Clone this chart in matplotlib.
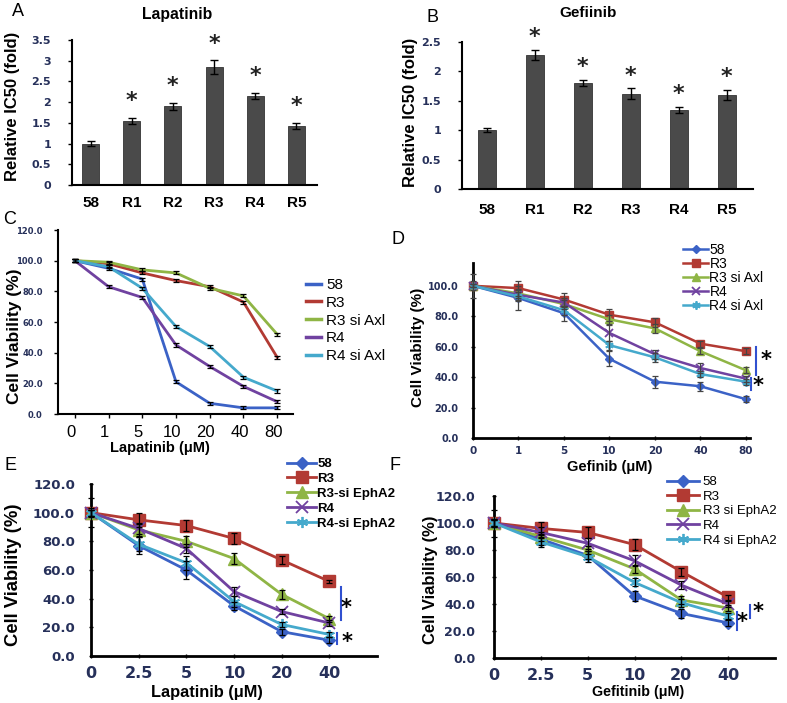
import matplotlib
matplotlib.use('Agg')
import matplotlib.pyplot as plt
import matplotlib.transforms as mtransforms
import numpy as np

plt.rcParams['font.family'] = ['Liberation Sans', 'DejaVu Sans']

# ---------------- data ----------------
bar_labels = ['58', 'R1', 'R2', 'R3', 'R4', 'R5']
lap_ic50 = [1.0, 1.55, 1.9, 2.85, 2.15, 1.43]
lap_err = [0.05, 0.07, 0.08, 0.16, 0.07, 0.07]
gef_ic50 = [1.0, 2.28, 1.8, 1.62, 1.35, 1.6]
gef_err = [0.03, 0.08, 0.05, 0.09, 0.05, 0.08]
bar_sig = [False, True, True, True, True, True]

conc_cd = ['0', '1', '5', '10', '20', '40', '80']
conc_ef = ['0', '2.5', '5', '10', '20', '40']

series_cd = ['58', 'R3', 'R3 si Axl', 'R4', 'R4 si Axl']
c_vals = {
    '58':        [100, 95, 88, 21, 7, 4, 4],
    'R3':        [100, 98, 92, 87, 83, 73, 37],
    'R3 si Axl': [100, 99, 94, 92, 82, 77, 52],
    'R4':        [100, 83, 76, 45, 31, 18, 8],
    'R4 si Axl': [100, 96, 82, 57, 44, 24, 15],
}
c_err = [1, 1, 1, 1, 1, 1, 1]

d_vals = {
    '58':        [100, 92, 82, 52, 37, 34, 25.5],
    'R3':        [100, 98.5, 91, 81, 76, 62, 57],
    'R3 si Axl': [100, 95, 88, 78, 72, 57, 44.5],
    'R4':        [100, 94, 89, 69, 55, 46, 39],
    'R4 si Axl': [100, 93, 84, 61, 53, 42, 37],
}
d_err = {
    '58':        [8, 8, 5, 5, 4, 3, 2],
    'R3':        [3, 5, 4, 4, 3, 2, 2],
    'R3 si Axl': [1, 3, 3, 3, 3, 2, 2],
    'R4':        [1, 3, 3, 5, 3, 3, 2],
    'R4 si Axl': [1, 3, 3, 3, 3, 2, 2],
}

series_e = ['58', 'R3', 'R3-si EphA2', 'R4', 'R4-si EphA2']
e_vals = {
    '58':          [100, 77, 60, 35, 17, 11],
    'R3':          [100, 95, 91, 82, 67, 52],
    'R3-si EphA2': [100, 88, 80, 68, 43, 26],
    'R4':          [100, 89, 75, 45, 31, 23],
    'R4-si EphA2': [100, 78, 65, 38, 22, 15],
}
e_err = {
    '58':          [2, 6, 6, 3, 2, 2],
    'R3':          [2, 5, 4, 4, 3, 1],
    'R3-si EphA2': [2, 4, 4, 4, 3, 2],
    'R4':          [10, 4, 3, 3, 2, 2],
    'R4-si EphA2': [3, 5, 5, 4, 2, 2],
}

series_f = ['58', 'R3', 'R3 si EphA2', 'R4', 'R4 si EphA2']
f_vals = {
    '58':          [100, 88, 76, 46, 33, 26],
    'R3':          [100, 96, 93, 84, 64, 45],
    'R3 si EphA2': [100, 90, 80, 66, 43, 37],
    'R4':          [100, 93, 85, 72, 54, 40],
    'R4 si EphA2': [100, 86, 75, 56, 41, 31],
}
f_err = {
    '58':          [3, 4, 3, 4, 3, 2],
    'R3':          [2, 5, 4, 4, 3, 2],
    'R3 si EphA2': [2, 3, 3, 3, 3, 2],
    'R4':          [10, 4, 4, 4, 3, 2],
    'R4 si EphA2': [3, 4, 4, 3, 3, 2],
}

colors = ['#3b62c6', '#b23a33', '#8fb545', '#7042a0', '#45a9cc']
markers = ['D', 's', '^', 'x', (6, 2, 0)]

# ---------------- figure ----------------
W, H = 787, 703
fig = plt.figure(figsize=(W / 100, H / 100), dpi=100)


def add_ax(x0, y0, x1, y1):
    return fig.add_axes([x0 / W, 1 - y1 / H, (x1 - x0) / W, (y1 - y0) / H])


def ftext(x, y, s, **kw):
    fig.text(x / W, 1 - y / H, s, **kw)


TICKC = '#26305a'


def base_style(ax, lw):
    for s in ['top', 'right']:
        ax.spines[s].set_visible(False)
    for s in ['left', 'bottom']:
        ax.spines[s].set_linewidth(lw)
        ax.spines[s].set_color('black')
    ax.patch.set_alpha(0)


def bar_panel(ax, vals, errs, ymax, step, xlim, width, star_off, ypad):
    x = np.arange(len(vals))
    ax.bar(x, vals, width=width, color='#4a4a4a', edgecolor='#333333', linewidth=0.6,
           yerr=errs, error_kw=dict(ecolor='black', elinewidth=1, capsize=3, capthick=1))
    for xi, v, e, s in zip(x, vals, errs, bar_sig):
        if s:
            ax.text(xi, v + e + star_off, '*', ha='center', va='center', fontsize=16,
                    fontweight='bold', fontfamily='DejaVu Sans', color='#222222')
    base_style(ax, 1.5)
    ax.set_xlim(*xlim)
    ax.set_ylim(0, ymax)
    yt = np.arange(0, ymax + 1e-9, step)
    ax.set_yticks(yt, labels=[('%g' % t) for t in yt], fontfamily='DejaVu Sans',
                  fontweight='bold', fontsize=8, color=TICKC)
    ax.set_xticks(x, labels=bar_labels, fontweight='bold', fontsize=11)
    ax.tick_params(axis='x', length=0, pad=8)
    ax.tick_params(axis='y', length=3, width=1, direction='out', pad=ypad)


# Panel A
axA = add_ax(72, 40, 317, 185)
bar_panel(axA, lap_ic50, lap_err, 3.5, 0.5, (-0.45, 5.5), 0.41, 0.4, 12)
# Panel B
axB = add_ax(462, 42, 753, 189)
bar_panel(axB, gef_ic50, gef_err, 2.5, 0.5, (-0.52, 5.55), 0.38, 0.22, 12)
axB.tick_params(axis='x', pad=10)


def line_panel(ax, series, vals, errs, xlabels, xlim, ylim, yticks, ytsize, ypad, xtsize,
               xtweight, xpad, use_markers, ms, lw, spine_lw, ecolor, tickdir):
    x = np.arange(len(xlabels))
    for i, name in enumerate(series):
        e = errs[name] if isinstance(errs, dict) else errs
        ax.plot(x, vals[name], color=colors[i], lw=lw,
                marker=markers[i] if use_markers else None,
                ms=ms[i] if use_markers else 0, mew=1.3 if i >= 3 else 1,
                label=name, clip_on=False, zorder=3)
        ax.errorbar(x, vals[name], yerr=e, fmt='none', ecolor=ecolor, elinewidth=0.9,
                    capsize=2.2, capthick=0.9, clip_on=False, zorder=4)
    base_style(ax, spine_lw)
    ax.set_xlim(*xlim)
    ax.set_ylim(*ylim)
    ax.set_yticks(yticks, labels=['%.1f' % t for t in yticks], fontfamily='DejaVu Sans',
                  fontweight='bold', fontsize=ytsize, color=TICKC)
    ax.set_xticks(x, labels=xlabels, fontsize=xtsize, fontweight=xtweight,
                  fontfamily='DejaVu Sans' if xtweight == 'bold' else 'Liberation Sans',
                  color=TICKC if xtweight == 'bold' else 'black')
    ax.tick_params(axis='y', length=3, width=1, direction=tickdir, pad=ypad)
    ax.tick_params(axis='x', length=3, width=1, direction=tickdir, pad=xpad)


def legend_at(ax, x, y, fontsize, weight, handlelength, textpad, spacing, lw=None):
    leg = ax.legend(loc='upper left', bbox_to_anchor=(x / W, 1 - y / H),
                    bbox_transform=fig.transFigure, frameon=False, borderpad=0,
                    borderaxespad=0, handlelength=handlelength, handletextpad=textpad,
                    labelspacing=spacing, numpoints=1,
                    prop=dict(size=fontsize, weight=weight, family='Liberation Sans'))
    if lw is not None:
        for ln in leg.get_lines():
            ln.set_linewidth(lw)
    return leg


def bracket(ax, xd, y0, y1, sx, sy):
    ax.plot([xd, xd], [y0, y1], color='#3050d0', lw=1.5, clip_on=False)
    ax.text(sx, sy, '*', ha='center', va='center', fontsize=15, fontweight='bold',
            fontfamily='DejaVu Sans', clip_on=False)


# Panel C
axC = add_ax(58, 230, 293, 414)
line_panel(axC, series_cd, c_vals, c_err, conc_cd, (-0.5, 6.47), (0, 120),
           np.arange(0, 121, 20), 6, 8, 12, 'normal', 5, False, None, 2.0, 1.5,
           'black', 'out')
shift = mtransforms.ScaledTranslation(-4 / 100, 0, fig.dpi_scale_trans)
for lbl in axC.get_xticklabels():
    lbl.set_transform(lbl.get_transform() + shift)
legend_at(axC, 306, 278, 11, 'normal', 1.0, 0.3, 0.25, lw=2.5)

# Panel D
axD = add_ax(473, 263, 750, 438)
line_panel(axD, series_cd, d_vals, d_err, conc_cd, (0, 6.09), (0, 115),
           np.arange(0, 101, 20), 7, 9, 7.5, 'bold', 4, True, [4, 5.5, 5.5, 5.5, 6], 1.8,
           2.0, '#444444', 'inout')
legend_at(axD, 683, 243, 10, 'normal', 1.8, 0.1, 0.0)
bracket(axD, 6.22, 59.9, 41.4, 6.44, 51.3)
bracket(axD, 6.11, 39.5, 31.6, 6.26, 34.2)

# Panel E
axE = add_ax(91, 484, 377, 656)
line_panel(axE, series_e, e_vals, e_err, conc_ef, (0, 6), (0, 120),
           np.arange(0, 121, 20), 9.5, 10, 11.5, 'bold', 6, True, [6, 8, 8, 8, 8], 2.0,
           2.0, 'black', 'inout')
legend_at(axE, 287, 458, 9.5, 'bold', 2.2, 0.1, 0.2)
bracket(axE, 5.25, 48.1, 25.1, 5.36, 33.5)
bracket(axE, 5.17, 16.0, 8.4, 5.38, 9.8)

# Panel F
axF = add_ax(494, 496, 775, 658)
line_panel(axF, series_f, f_vals, f_err, conc_ef, (0, 6), (0, 120),
           np.arange(0, 121, 20), 9, 12, 11.5, 'bold', 6, True, [6, 8, 8, 8, 8], 2.0,
           2.0, 'black', 'inout')
legend_at(axF, 667, 476, 9.5, 'normal', 2.4, 0.3, 0.18)
bracket(axF, 5.19, 34.0, 20.7, 5.30, 26.7)
bracket(axF, 5.47, 39.0, 30.0, 5.64, 34.0)

# ---------------- texts ----------------
ftext(18, 12, 'A', fontsize=13, ha='center', va='center')
ftext(432, 18, 'B', fontsize=13, ha='center', va='center')
ftext(10, 219, 'C', fontsize=13, ha='center', va='center')
ftext(398, 240, 'D', fontsize=13, ha='center', va='center')
ftext(11, 466, 'E', fontsize=13, ha='center', va='center')
ftext(395, 466, 'F', fontsize=13, ha='center', va='center')

ftext(177, 15, 'Lapatinib', fontsize=11.3, fontweight='bold', ha='center', va='center')
ftext(588, 13, 'Gefiinib', fontsize=11, fontweight='bold', ha='center', va='center')

ftext(13, 106, 'Relative IC50 (fold)', fontsize=12, fontweight='bold', rotation=90,
      ha='center', va='center')
ftext(410, 112, 'Relative IC50 (fold)', fontsize=12, fontweight='bold', rotation=90,
      ha='center', va='center')
ftext(15, 336, 'Cell Viability (%)', fontsize=12.5, fontweight='bold', rotation=90,
      ha='center', va='center')
ftext(418, 347, 'Cell Viability (%)', fontsize=11, fontweight='bold', rotation=90,
      ha='center', va='center')
ftext(14, 575, 'Cell Viability (%)', fontsize=13.3, fontweight='bold', rotation=90,
      ha='center', va='center')
ftext(430, 580, 'Cell Viability (%)', fontsize=12, fontweight='bold', rotation=90,
      ha='center', va='center')

ftext(160, 448, 'Lapatinib (\u03bcM)', fontsize=10.5, fontweight='bold', ha='center', va='center')
ftext(610, 467, 'Gefinib (\u03bcM)', fontsize=10.5, fontweight='bold', ha='center', va='center')
ftext(207, 693, 'Lapatinib (\u03bcM)', fontsize=11.8, fontweight='bold', ha='center', va='center')
ftext(638, 692, 'Gefitinib (\u03bcM)', fontsize=10.3, fontweight='bold', ha='center', va='center')

fig.savefig('out.png', dpi=100, facecolor='white')
